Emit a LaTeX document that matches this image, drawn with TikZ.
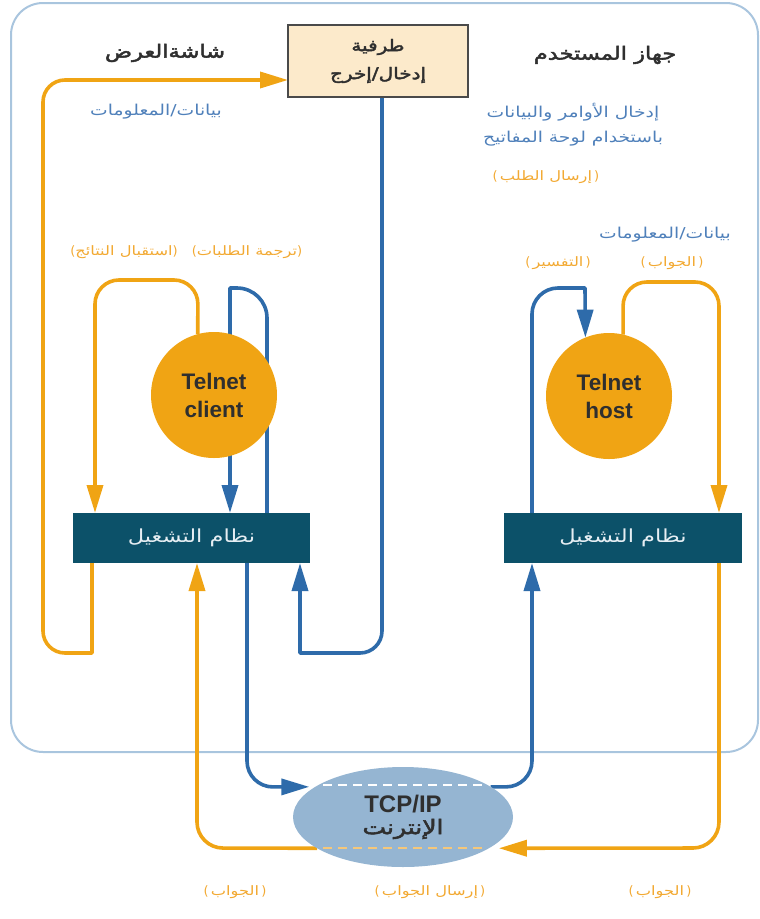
\documentclass[tikz,border=0pt]{standalone}
\usepackage{fontspec}
\setmainfont{Liberation Sans}
\newfontfamily\arabicfont[Script=Arabic,FakeStretch=1.25]{DejaVu Sans}
\newfontfamily\arabicbold[Script=Arabic,FakeStretch=1.25,FakeBold=2.6]{DejaVu Sans}
\newfontfamily\parenfont{DejaVu Sans}
\TeXXeTstate=1
\newcommand\artext[1]{\beginR#1\endR}
\newcommand\lp{{\parenfont(}}
\newcommand\rp{{\parenfont)}}
\usetikzlibrary{arrows.meta,shapes.geometric,backgrounds}

\definecolor{flow}{HTML}{F0A414}
\definecolor{req}{HTML}{2E6BAA}
\definecolor{frameblue}{HTML}{A9C5DE}
\definecolor{osfill}{HTML}{0C5169}
\definecolor{netfill}{HTML}{95B5D2}
\definecolor{termfill}{HTML}{FCEACB}
\definecolor{termedge}{HTML}{4A4A4A}
\definecolor{ink}{HTML}{2F2F2F}
\definecolor{coolnote}{HTML}{4F80BA}
\definecolor{warmnote}{HTML}{F2A932}
\definecolor{ostext}{HTML}{E6EEF3}
\definecolor{dashwarm}{HTML}{F5C77A}

\begin{document}
\begin{tikzpicture}[x=1pt,y=-1pt,
  wire/.style={line width=3.6pt, line join=round},
  warm/.style={wire, draw=flow},
  cool/.style={wire, draw=req},
  head/.style={-{Triangle[length=28pt,width=16pt]}},
  osbox/.style={rectangle, fill=osfill, minimum width=237pt, minimum height=50pt,
    inner sep=0pt, outer sep=0pt, text=ostext, font=\arabicfont\fontsize{18}{20}\selectfont},
  telnet/.style={circle, fill=flow, minimum size=126pt, inner sep=0pt, outer sep=0pt,
    text=ink, align=center, font=\bfseries\fontsize{22.5}{28}\selectfont},
  titletext/.style={text=ink, font=\arabicbold\fontsize{18}{22}\selectfont},
  coollabel/.style={text=coolnote, font=\arabicfont\fontsize{15}{25}\selectfont},
  warmlabel/.style={text=warmnote, font=\arabicfont\fontsize{13}{16}\selectfont},
  frameline/.style={draw=frameblue, line width=2pt, rounded corners=32pt}
]
\useasboundingbox (0,0) rectangle (760,919);

% terminal
\node[rectangle, draw=termedge, line width=2pt, fill=termfill, minimum width=180pt,
  minimum height=72pt, inner sep=0pt, outer sep=0pt, align=center, text=ink,
  font=\arabicbold\fontsize{16}{28}\selectfont] (term) at (378,61)
  {\artext{طرفية}\\\artext{إدخال/إخرج}};

% operating systems
\node[osbox] (osL) at (191.5,538) {\artext{نظام التشغيل}};
\node[osbox, minimum width=238pt] (osR) at (623,538) {\artext{نظام التشغيل}};

% telnet programs
\node[telnet] (client) at (214,395) {Telnet\\client};
\node[telnet] (host) at (609,396) {Telnet\\host};

% network
\node[ellipse, fill=netfill, minimum width=220pt, minimum height=100pt, inner sep=0pt,
  outer sep=0pt] (net) at (403,817) {};
\node[text=ink, font=\bfseries\fontsize{24}{26}\selectfont] (netproto)
  at ([yshift=13pt]net.center) {TCP/IP};
\node[text=ink, font=\arabicbold\fontsize{20}{22}\selectfont] (netname)
  at ([yshift=-12pt]net.center) {\artext{الإنترنت}};
\draw[white, line width=1.6pt, dash pattern=on 9pt off 6pt]
  ([xshift=-80pt,yshift=32pt]net.center) -- ([xshift=80pt,yshift=32pt]net.center);
\draw[dashwarm, line width=1.6pt, dash pattern=on 9pt off 6pt]
  ([xshift=-80pt,yshift=-31pt]net.center) -- ([xshift=80pt,yshift=-31pt]net.center);

% labels
\node[titletext] (lbldisplay) at (165,53) {\artext{شاشةالعرض}};
\node[titletext] (lbldevice) at (605,55) {\artext{جهاز المستخدم}};
\node[coollabel] (lbldataL) at (156,112) {\artext{بيانات/المعلومات}};
\node[coollabel, align=center] (lblkeys) at (573,125)
  {\artext{إدخال الأوامر والبيانات}\\\artext{باستخدام لوحة المفاتيح}};
\node[warmlabel] (lblreq) at (546,177) {\lp\,\artext{إرسال الطلب}\,\rp};
\node[warmlabel] (lbltrans) at (247,252) {\lp\artext{ترجمة الطلبات}\rp};
\node[warmlabel] (lblrecv) at (124,252) {\lp\artext{استقبال النتائج}\rp};
\node[coollabel] (lbldataR) at (665,235) {\artext{بيانات/المعلومات}};
\node[warmlabel] (lblansR) at (672,263) {\lp\,\artext{الجواب}\,\rp};
\node[warmlabel] (lblinterp) at (558,263) {\lp\,\artext{التفسير}\,\rp};
\node[warmlabel] (lblansBL) at (235,892) {\lp\,\artext{الجواب}\,\rp};
\node[warmlabel] (lblsendans) at (430,892) {\lp\,\artext{إرسال الجواب}\,\rp};
\node[warmlabel] (lblansBR) at (660,892) {\lp\,\artext{الجواب}\,\rp};

\begin{scope}[on background layer]
  % user device frame
  \draw[frameline] (11,3) rectangle (758,752);

  % screen output back to the terminal
  \draw[warm, head] ([xshift=19pt]osL.south west) -- (92,653)
    [rounded corners=22pt] -- (43,653) -- (43,80) -- ([yshift=17pt]term.south west);
  % results received by the client
  \draw[warm, head, rounded corners=24pt] (client.105) -- (198,280) -- (95,280)
    -- ([xshift=22pt]osL.north west);
  % requests translated by the client
  \draw[cool, head] ([xshift=194pt]osL.north west) [rounded corners=30pt] -- (267,288)
    [sharp corners] -- (230,288) -- ([xshift=157pt]osL.north west);
  % keyboard input from the terminal
  \draw[cool, head] ([xshift=4pt]term.south) [rounded corners=22pt] -- (382,653)
    [sharp corners] -- (300,653) -- ([xshift=227pt]osL.south west);
  % request sent into the network
  \draw[cool, head, shorten >=6pt, rounded corners=26pt] ([xshift=174pt]osL.south west)
    -- (247,787) -- (net.161);
  % request delivered to the host
  \draw[cool, head, rounded corners=26pt] (net.19) -- (532,787)
    -- ([xshift=28pt]osR.south west);
  % answer delivered to the client
  \draw[warm, head, rounded corners=26pt] (net.200) -- (197,848)
    -- ([xshift=124pt]osL.south west);
  % answer sent into the network
  \draw[warm, head, shorten >=10pt, rounded corners=26pt] ([xshift=215pt]osR.south west)
    -- (719,848) -- (net.340);
  % interpretation by the host
  \draw[cool, head] ([xshift=28pt]osR.north west) [rounded corners=26pt] -- (532,288)
    [sharp corners] -- (585,288) -- (host.112);
  % host answer
  \draw[warm, head, rounded corners=24pt] (host.77) -- (623,282) -- (719,282)
    -- ([xshift=215pt]osR.north west);
\end{scope}
\end{tikzpicture}
\end{document}
